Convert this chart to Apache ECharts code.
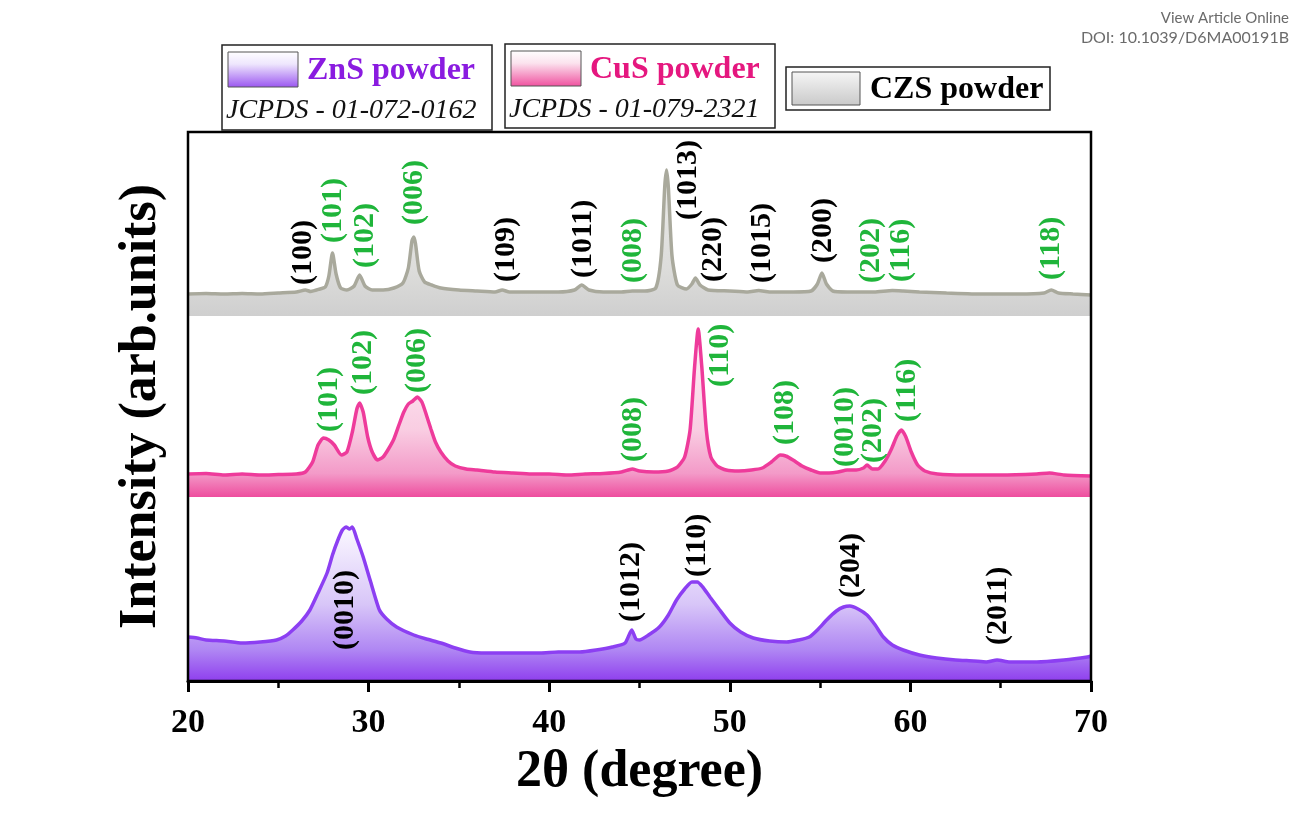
<!DOCTYPE html>
<html><head><meta charset="utf-8">
<script src="https://cdn.jsdelivr.net/npm/echarts@6/dist/echarts.min.js"></script>
<style>html,body{margin:0;padding:0;background:#fff;}#c{width:1290px;height:839px;}</style>
</head><body><div id="c"></div>
<script>
// ---------- axis ----------
const xMin = 20, xMax = 70, xStep = 10;
const xTitle = '2θ (degree)';
const yTitle = 'Intensity (arb.units)';

// ---------- series names / legend ----------
const seriesNames = ['CZS powder', 'CuS powder', 'ZnS powder'];
const jcpdsZnS = 'JCPDS - 01-072-0162';
const jcpdsCuS = 'JCPDS - 01-079-2321';

// ---------- patterns: [2θ, intensity] ----------
const czsPoints = [[20,22],[21,22.5],[22,22],[23,22.5],[24,22],[25,23],[26,24],[26.5,26],[26.8,24.5],[27.3,27],[27.6,29],[27.8,40],[28.0,63],[28.2,42],[28.45,28],[28.8,26],[29.2,30],[29.5,41],[29.8,30],[30.2,26],[30.8,26],[31.4,28],[31.9,33],[32.2,48],[32.4,75],[32.5,79],[32.6,72],[32.8,45],[33.1,34],[33.5,31],[34,28],[35,26],[36,25],[37,24],[37.4,26],[37.8,24],[39,24],[40.5,24],[41.4,26],[41.8,31],[42.2,26],[43,24],[44,24],[44.6,25],[45.3,25],[45.9,28],[46.2,60],[46.4,130],[46.5,146],[46.6,128],[46.8,60],[47.1,31],[47.6,27],[47.9,32],[48.1,38],[48.35,31],[48.8,26],[50,25],[51,24],[51.6,25.5],[52.2,24],[53.5,24],[54.5,25],[54.85,32],[55.1,43],[55.35,32],[55.7,25],[56.5,24],[58,24],[59,25.5],[59.6,25],[60.5,24],[62,23],[64,22],[66,22],[67.4,23],[67.8,26],[68.2,23],[69,22],[70,21]];

const cusPoints = [[20,23],[21,23.5],[22,22],[23,23],[24,22],[25,22.5],[26,23],[26.5,25],[26.9,35],[27.2,52],[27.5,59],[27.8,57],[28.1,52],[28.5,42],[28.8,45],[29.1,65],[29.35,88],[29.5,94],[29.7,85],[29.95,60],[30.2,45],[30.5,37],[30.8,40],[31.1,48],[31.4,58],[31.7,73],[31.95,85],[32.2,93],[32.45,96],[32.7,100],[32.95,95],[33.2,82],[33.45,68],[33.7,55],[34.0,45],[34.4,36],[34.8,31],[35.4,28],[36,27],[37,25],[38,24],[39,23],[40,23],[41,22],[42,23],[43,23.5],[44,25],[44.6,28],[45.0,26],[45.8,25],[46.6,26],[47.1,30],[47.5,40],[47.8,67],[48.05,130],[48.25,168],[48.45,130],[48.7,67],[48.95,40],[49.3,31],[49.8,27],[50.5,26],[51.2,27],[51.8,29],[52.3,35],[52.8,42],[53.1,41],[53.5,37],[54,31],[54.5,27],[55,24],[55.5,24],[56,25],[56.5,27],[57,27],[57.4,29],[57.6,32],[57.9,28],[58.2,28],[58.6,36],[58.95,48],[59.25,61],[59.5,67],[59.75,60],[60.05,45],[60.4,32],[60.8,26],[61.5,23],[63,22],[65,22],[67,23],[67.7,24],[68.5,22],[70,21]];

const znsPoints = [[20,44],[20.5,43],[21,41],[22,40],[23,38],[24,39],[24.9,41],[25.4,45],[25.8,51],[26.3,60],[26.75,71],[27.2,88],[27.7,108],[28.0,126],[28.3,141],[28.55,151],[28.75,154],[28.95,152],[29.1,154],[29.35,142],[29.7,124],[30.1,100],[30.6,71],[31.0,62],[31.55,54],[32.5,46],[33.2,42],[34,38],[34.8,33],[35.6,29],[36.5,28],[38,28],[39.5,28],[40.5,29],[41.7,29],[42.6,31],[43.5,34],[44.2,38],[44.57,51],[44.8,42],[45.0,41],[45.5,46],[46.1,54],[46.6,66],[47.05,81],[47.5,92],[47.9,99],[48.2,99],[48.5,94],[48.9,84],[49.4,72],[50.0,58],[50.6,49],[51.3,43],[52.2,40],[53.15,39],[53.8,41],[54.4,44],[54.9,52],[55.36,61],[55.9,70],[56.3,74],[56.65,75],[57.1,72],[57.6,66],[58.05,56],[58.5,44],[59.0,36],[59.6,31],[60.5,26],[61.45,23],[62.5,21],[63.5,20],[64.2,19],[64.8,21],[65.5,19],[67,19],[68.5,21],[69.8,24],[70,25]];

// ---------- reflection labels (text, 2θ, intensity level, phase) ----------
const czsHkl   = ['(100)','(101)','(102)','(006)','(109)','(1011)','(008)','(1013)','(220)','(1015)','(200)','(202)','(116)','(118)'];
const czsTheta = [26.4, 28.05, 29.8, 32.5, 37.6, 41.9, 44.65, 47.7, 49.1, 51.8, 55.2, 57.85, 59.5, 67.8];
const czsLevel = [31, 73, 48, 91, 34, 38, 33, 96, 34, 33, 53, 33, 34, 36];
const czsPhase = ['ZnS','CuS','CuS','CuS','ZnS','ZnS','CuS','ZnS','ZnS','ZnS','ZnS','CuS','CuS','CuS'];

const cusHkl   = ['(101)','(102)','(006)','(008)','(110)','(108)','(0010)','(202)','(116)'];
const cusTheta = [27.83, 29.7, 32.7, 44.65, 49.45, 53.05, 56.4, 57.95, 59.8];
const cusLevel = [65, 102, 104, 35, 110, 52, 30, 34, 75];
const cusPhase = ['CuS','CuS','CuS','CuS','CuS','CuS','CuS','CuS','CuS'];

const znsHkl   = ['(0010)','(1012)','(110)','(204)','(2011)'];
const znsTheta = [28.7, 44.57, 48.17, 56.75, 64.87];
const znsLevel = [31, 59, 104, 83, 36];
const znsPhase = ['ZnS','ZnS','ZnS','ZnS','ZnS'];

// ---------- styling ----------
const SERIF = '"Liberation Serif","Times New Roman",serif';
const phaseColor = {CuS: '#1fb53a', ZnS: '#000000'};
const LG = (stops) => new echarts.graphic.LinearGradient(0, 0, 0, 1, stops.map((c) => ({offset: c[0], color: c[1]})));

const panelTop = [132, 316, 497];
const panelH = [184, 181, 184];
const left = 188, right = 1290 - 1091;

const grids = panelTop.map((t, i) => ({left, right, top: t, height: panelH[i], containLabel: false}));
grids.push({left, right, top: 132, bottom: 839 - 681, show: true, borderColor: '#000', borderWidth: 2.5, backgroundColor: 'transparent', z: 10});

const xAxes = [0,1,2,3].map(i => ({
  type: 'value', gridIndex: i, min: xMin, max: xMax, interval: xStep,
  show: i === 2,
  axisLine: {show: true, onZero: false, lineStyle: {color: '#000', width: 3}},
  axisTick: {show: true, length: 11, lineStyle: {color: '#000', width: 3}},
  minorTick: {show: true, splitNumber: 2, length: 7, lineStyle: {color: '#000', width: 2.5}},
  splitLine: {show: false},
  axisLabel: {show: true, margin: 25, color: '#000', fontFamily: SERIF, fontWeight: 'bold', fontSize: 34},
  name: i === 2 ? xTitle : '', nameLocation: 'middle', nameGap: 66,
  nameTextStyle: {color: '#000', fontFamily: SERIF, fontWeight: 'bold', fontSize: 52}
}));

const yAxes = [0,1,2].map(i => ({
  type: 'value', gridIndex: i, min: 0, max: panelH[i], show: false
}));
yAxes.push({
  type: 'value', gridIndex: 3, min: 0, max: 1, show: true,
  axisLine: {show: false}, axisTick: {show: false}, axisLabel: {show: false}, splitLine: {show: false},
  name: yTitle, nameLocation: 'middle', nameGap: 20, nameRotate: 90,
  nameTextStyle: {color: '#000', fontFamily: SERIF, fontWeight: 'bold', fontSize: 52}
});

function pattern(name, idx, pts, lineColor, fill) {
  return {
    name, type: 'line', xAxisIndex: idx, yAxisIndex: idx, data: pts,
    showSymbol: false, symbol: 'none', smooth: 0.2, silent: true,
    lineStyle: {color: lineColor, width: 3.5},
    areaStyle: {origin: 'start', color: fill, opacity: 1}
  };
}
function labels(idx, hkl, theta, level, phase) {
  return {
    type: 'scatter', xAxisIndex: idx, yAxisIndex: idx, symbolSize: 0, silent: true, z: 20,
    itemStyle: {opacity: 0},
    data: hkl.map((t, i) => ({
      name: t, value: [theta[i], level[i]],
      label: {color: phaseColor[phase[i]]}
    })),
    label: {
      show: true, formatter: p => p.name, rotate: 90, position: 'inside',
      align: 'left', verticalAlign: 'middle', opacity: 1,
      textBorderWidth: 0, textBorderColor: 'transparent', textShadowBlur: 0,
      fontFamily: SERIF, fontWeight: 'bold', fontSize: 30
    }
  };
}

const purpleFill = LG([[0,'#fbf8ff'],[0.5,'#d8c6f8'],[0.8,'#af86f3'],[1,'#8f3fee']]);
const pinkFill = LG([[0,'#fff2f8'],[0.6,'#f9cde2'],[0.86,'#f39ac8'],[1,'#ee4d9e']]);
const grayFill = LG([[0,'#ececea'],[0.7,'#dcdcda'],[1,'#cfcfcf']]);

const option = {
  backgroundColor: '#ffffff',
  animation: false,
  grid: grids,
  xAxis: xAxes,
  yAxis: yAxes,
  series: [
    pattern(seriesNames[0], 0, czsPoints, '#a9a99c', grayFill),
    pattern(seriesNames[1], 1, cusPoints, '#ee3b9b', pinkFill),
    pattern(seriesNames[2], 2, znsPoints, '#8c3ff2', purpleFill),
    labels(0, czsHkl, czsTheta, czsLevel, czsPhase),
    labels(1, cusHkl, cusTheta, cusLevel, cusPhase),
    labels(2, znsHkl, znsTheta, znsLevel, znsPhase)
  ],
  graphic: [
    // ZnS legend box
    {type: 'rect', shape: {x: 222, y: 45, width: 270, height: 85}, style: {fill: '#fff', stroke: '#222', lineWidth: 1.5}},
    {type: 'rect', shape: {x: 228, y: 52, width: 70, height: 35}, style: {fill: LG([[0,'#ffffff'],[0.35,'#eee6fd'],[1,'#9a55f0']]), stroke: '#555', lineWidth: 1}},
    {type: 'text', x: 307, y: 71, style: {text: seriesNames[2], font: 'bold 32px ' + SERIF, fill: '#8a1be0', verticalAlign: 'middle'}},
    {type: 'text', x: 226, y: 111, style: {text: jcpdsZnS, font: 'italic 28px ' + SERIF, fill: '#111', verticalAlign: 'middle'}},
    // CuS legend box
    {type: 'rect', shape: {x: 505, y: 44, width: 270, height: 84}, style: {fill: '#fff', stroke: '#222', lineWidth: 1.5}},
    {type: 'rect', shape: {x: 511, y: 51, width: 70, height: 35}, style: {fill: LG([[0,'#ffffff'],[0.35,'#fbe3ee'],[1,'#f0509f']]), stroke: '#555', lineWidth: 1}},
    {type: 'text', x: 590, y: 70, style: {text: seriesNames[1], font: 'bold 32px ' + SERIF, fill: '#e5177f', verticalAlign: 'middle'}},
    {type: 'text', x: 509, y: 110, style: {text: jcpdsCuS, font: 'italic 28px ' + SERIF, fill: '#111', verticalAlign: 'middle'}},
    // CZS legend box
    {type: 'rect', shape: {x: 786, y: 67, width: 264, height: 43}, style: {fill: '#fff', stroke: '#222', lineWidth: 1.5}},
    {type: 'rect', shape: {x: 792, y: 72, width: 68, height: 33}, style: {fill: LG([[0,'#f6f6f6'],[1,'#c9c9c9']]), stroke: '#555', lineWidth: 1}},
    {type: 'text', x: 870, y: 90, style: {text: seriesNames[0], font: 'bold 32px ' + SERIF, fill: '#000', verticalAlign: 'middle'}},
    // header
    {type: 'text', x: 1289, y: 18, style: {text: 'View Article Online', font: '15px Lato, "Noto Sans", sans-serif', fill: '#6b6b6b', align: 'right', verticalAlign: 'middle'}},
    {type: 'text', x: 1289, y: 38, style: {text: 'DOI: 10.1039/D6MA00191B', font: '16px Lato, "Noto Sans", sans-serif', fill: '#6b6b6b', align: 'right', verticalAlign: 'middle'}}
  ]
};

const chart = echarts.init(document.getElementById('c'), null, {renderer: 'canvas'});
chart.setOption(option);
</script>
</body></html>
